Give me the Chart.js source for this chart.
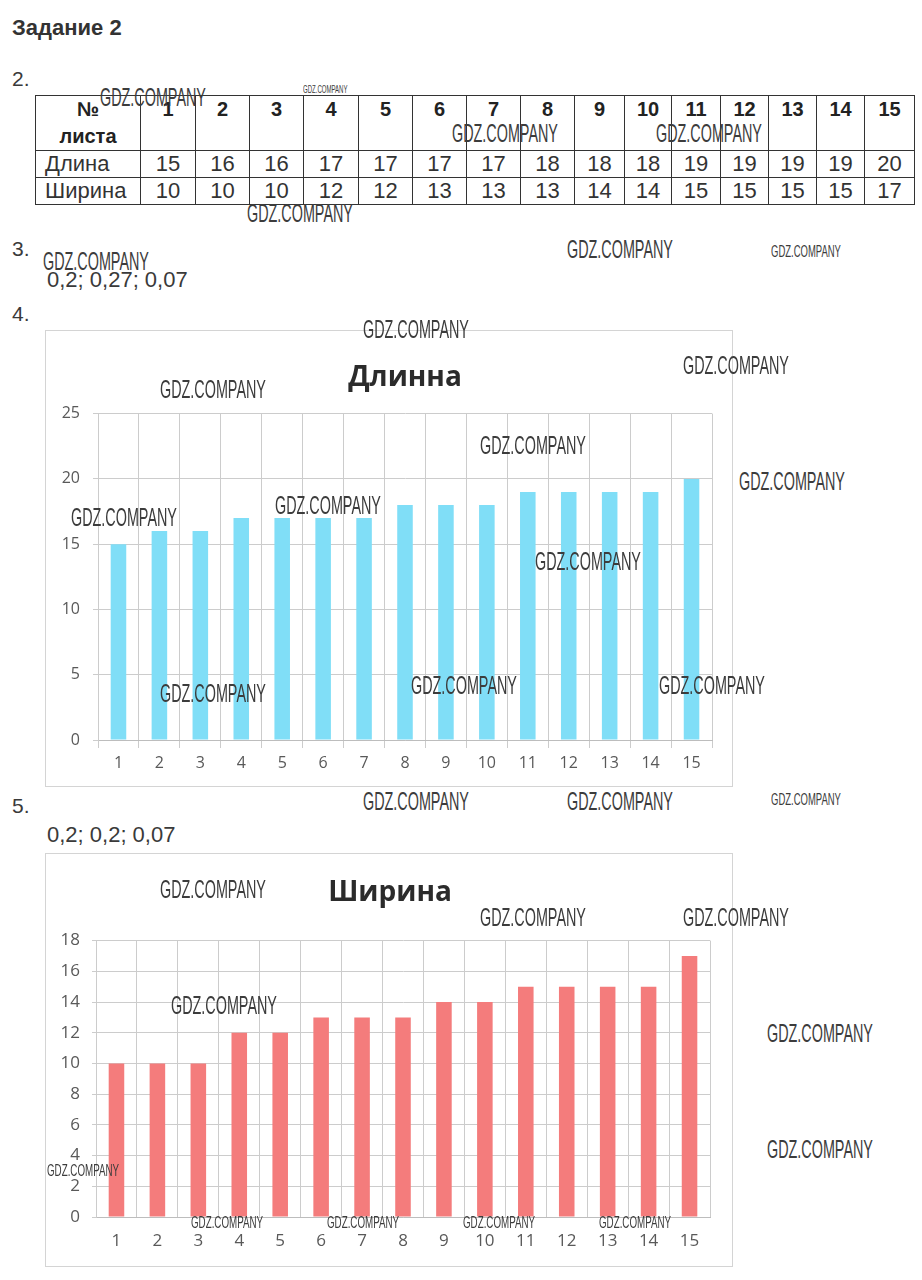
<!DOCTYPE html>
<html>
<head>
<meta charset="utf-8">
<script src="https://cdn.jsdelivr.net/npm/chart.js@4"></script>
<style>
  html, body { margin: 0; padding: 0; background: #fff; }
  #page { position: relative; width: 922px; height: 1280px; overflow: hidden; font-family: "Liberation Sans", Arial, sans-serif; color: #3a3a3a; }
  .txt { position: absolute; line-height: 1; white-space: nowrap; }
  #sheetTable { position: absolute; left: 35px; top: 95px; width: 879px; table-layout: fixed; border-collapse: collapse; font-size: 22px; color: #333; }
  #sheetTable td { border: 1px solid #333; padding: 0; text-align: center; height: 26px; overflow: visible; white-space: nowrap; }
  #sheetTable tr.head td { font-weight: bold; font-size: 20px; vertical-align: top; height: 52px; line-height: 27px; color: #222; }
  #sheetTable td.lbl { text-align: left; padding-left: 9px; }
  #sheetTable tr.head td.lbl { text-align: center; padding-left: 0; }
  .box { position: absolute; border: 1px solid #d4d4d4; background: #fff; }
  .wm { position: absolute; font-family: "Liberation Sans", Arial, sans-serif; color: #3c3c3c; line-height: 1; white-space: nowrap; transform-origin: 0 0; pointer-events: none; z-index: 5; }
</style>
</head>
<body>
<div id="page">
  <div class="txt" style="left:12px;top:17px;font-size:22px;font-weight:bold;color:#333;">Задание 2</div>
  <div class="txt" style="left:12px;top:68px;font-size:21px;">2.</div>
  <table id="sheetTable"><colgroup id="cols"></colgroup></table>
  <div class="txt" style="left:12px;top:238px;font-size:21px;">3.</div>
  <div class="txt" id="answer3" style="left:47px;top:269px;font-size:22px;"></div>
  <div class="txt" style="left:12px;top:303px;font-size:21px;">4.</div>
  <div class="box" style="left:45px;top:330px;width:686px;height:455px;">
    <canvas id="lengthChart" width="686" height="455"></canvas>
  </div>
  <div class="txt" style="left:12px;top:795px;font-size:21px;">5.</div>
  <div class="txt" id="answer5" style="left:47px;top:824px;font-size:22px;"></div>
  <div class="box" style="left:45px;top:853px;width:686px;height:412px;">
    <canvas id="widthChart" width="686" height="412"></canvas>
  </div>
</div>
<script>
const sheetNumbers = ['1', '2', '3', '4', '5', '6', '7', '8', '9', '10', '11', '12', '13', '14', '15'];
const lengths = [15, 16, 16, 17, 17, 17, 17, 18, 18, 18, 19, 19, 19, 19, 20];
const widths = [10, 10, 10, 12, 12, 13, 13, 13, 14, 14, 15, 15, 15, 15, 17];
const lengthTicks = [0, 5, 10, 15, 20, 25];
const widthTicks = [0, 2, 4, 6, 8, 10, 12, 14, 16, 18];
const answer3 = [0.2, 0.27, 0.07];
const answer5 = [0.2, 0.2, 0.07];

const colWidths = [105, 55, 54, 54, 55, 54, 54, 54, 54, 50, 47, 49, 48, 48, 48, 50];

// table from the same arrays
const table = document.getElementById('sheetTable');
const cols = document.getElementById('cols');
colWidths.forEach(w => {
  const c = document.createElement('col');
  c.style.width = w + 'px';
  cols.appendChild(c);
});
function addRow(label, values, cls) {
  const tr = document.createElement('tr');
  if (cls) tr.className = cls;
  const th = document.createElement('td');
  th.className = 'lbl';
  th.innerHTML = label;
  tr.appendChild(th);
  values.forEach(v => {
    const td = document.createElement('td');
    td.textContent = v;
    tr.appendChild(td);
  });
  table.appendChild(tr);
}
addRow('№<br>листа', sheetNumbers, 'head');
addRow('Длина', lengths);
addRow('Ширина', widths);

const fmt = arr => arr.map(v => String(v).replace('.', ',')).join('; ');
document.getElementById('answer3').textContent = fmt(answer3);
document.getElementById('answer5').textContent = fmt(answer5);

const tickFont = { family: '"Open Sans", sans-serif', size: 16 };
const gridColor = '#cccccc';

function barChart(canvasId, title, values, ticks, color, cfg) {
  const scales = {
    x: {
      grid: { color: gridColor, offset: true, drawTicks: cfg.xTick > 0, tickLength: cfg.xTick },
      border: { color: '#bdbdbd' },
      ticks: { color: '#595959', font: { ...tickFont, size: cfg.xFont }, padding: cfg.xPad, maxRotation: 0 },
      afterFit: s => { s.height = cfg.xHeight; },
    },
    y: {
      min: ticks[0],
      max: ticks[ticks.length - 1],
      grid: { color: gridColor, tickLength: cfg.yTick },
      border: { color: gridColor },
      ticks: { stepSize: ticks[1] - ticks[0], color: '#595959', font: { ...tickFont, size: cfg.yFont }, padding: cfg.yPad },
      afterFit: s => { s.width = cfg.yWidth; },
    },
  };
  if (cfg.rightGap) {
    // empty spacer axis on the right, keeps the title centred on the frame
    scales.yGap = {
      type: 'linear', position: 'right',
      grid: { display: false }, border: { display: false }, ticks: { display: false },
      afterFit: s => { s.width = cfg.rightGap; },
    };
  }
  return new Chart(document.getElementById(canvasId), {
    type: 'bar',
    data: {
      labels: sheetNumbers,
      datasets: [{
        data: values,
        backgroundColor: color,
        borderWidth: 0,
        barPercentage: 0.38,
        categoryPercentage: 1.0,
      }],
    },
    options: {
      responsive: false,
      animation: false,
      layout: { padding: cfg.padding },
      plugins: {
        legend: { display: false },
        tooltip: { enabled: false },
        title: {
          display: true,
          text: title,
          fullSize: cfg.titleFull,
          color: '#2b2b2b',
          font: { family: '"Open Sans", sans-serif', size: 28, weight: 'bold', lineHeight: 1.2 },
          padding: cfg.titlePadding,
        },
      },
      scales: scales,
    },
  });
}

barChart('lengthChart', 'Длинна', lengths, lengthTicks, '#80DEF7', {
  padding: { left: 0, right: 20, top: 0, bottom: 0 },
  titleFull: false,
  titlePadding: { top: 30, bottom: 19 },
  xTick: 8, xPad: 6, xFont: 16, xHeight: 46,
  yTick: 5, yPad: 13, yFont: 16, yWidth: 52,
});

barChart('widthChart', 'Ширина', widths, widthTicks, '#F47C7C', {
  padding: { left: 10, right: 8, top: 0, bottom: 0 },
  titleFull: true,
  titlePadding: { top: 22, bottom: 31 },
  xTick: 0, xPad: 14, xFont: 17, xHeight: 49,
  yTick: 4, yPad: 12, yFont: 17, yWidth: 40,
  rightGap: 14,
});

// watermark overlay of the source scan
const marks = [
  [100, 88, 1], [303, 85, 0.42], [452, 124, 1], [656, 124, 1], [247, 204, 1],
  [43, 252, 1], [567, 240, 1], [771, 245, 0.66], [363, 320, 1], [683, 356, 1],
  [160, 380, 1], [480, 436, 1], [739, 472, 1], [275, 496, 1], [71, 508, 1],
  [535, 552, 1], [160, 684, 1], [411, 676, 1], [659, 676, 1], [363, 792, 1],
  [567, 792, 1], [771, 793, 0.66], [160, 880, 1], [480, 908, 1], [683, 908, 1],
  [171, 996, 1], [767, 1024, 1], [47, 1164, 0.68], [767, 1140, 1],
  [191, 1216, 0.68], [327, 1216, 0.68], [463, 1216, 0.68], [599, 1216, 0.68],
];
const page = document.getElementById('page');
marks.forEach(([x, y, f]) => {
  const el = document.createElement('div');
  el.className = 'wm';
  const fs = 25 * f;
  el.style.fontSize = fs + 'px';
  el.style.left = x + 'px';
  el.style.top = (y - 0.13 * fs) + 'px';
  el.style.transform = 'scaleX(0.575)';
  el.textContent = 'GDZ.COMPANY';
  page.appendChild(el);
});
</script>
</body>
</html>
